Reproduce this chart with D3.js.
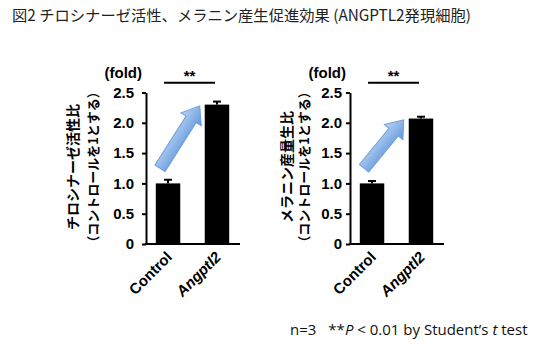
<!DOCTYPE html>
<html lang="ja">
<head>
<meta charset="utf-8"/>
<script src="https://d3js.org/d3.v7.min.js"></script>
<style>
  body { margin: 0; background: #fff; }
  svg { display: block; }
  .tick line { stroke: #000; stroke-width: 2; }
  .domain { stroke: #000; stroke-width: 2; }
</style>
</head>
<body>
<svg width="549" height="351"></svg>
<script>
// datos
const categories = ["Control", "Angptl2"];
const tyrosinase = [1.0, 2.3];
const tyrosinaseErr = [0.06, 0.05];
const melanin = [1.0, 2.07];
const melaninErr = [0.04, 0.03];
const yTicks = [0, 0.5, 1.0, 1.5, 2.0, 2.5];

const title = "図2 チロシナーゼ活性、メラニン産生促進効果 (ANGPTL2発現細胞)";
const labelsA = ["チロシナーゼ活性比", "（コントロールを1とする）"];
const labelsB = ["メラニン産量生比", "（コントロールを1とする）"];

const svg = d3.select("svg");
const jp = "'Noto Sans CJK JP', sans-serif";
const lat = "'Liberation Sans', Arial, sans-serif";

svg.append("text")
  .attr("x", 12).attr("y", 21)
  .style("font-family", jp).style("font-size", "15.3px")
  .attr("fill", "#222")
  .text(title);

// flecha azul con degradado
const defs = svg.append("defs");
const grad = defs.append("linearGradient").attr("id", "azul")
  .attr("x1", "0").attr("y1", "0").attr("x2", "0").attr("y2", "1");
grad.append("stop").attr("offset", "0%").attr("stop-color", "#b9d3f3");
grad.append("stop").attr("offset", "100%").attr("stop-color", "#5f97dc");

function chart(cfg) {
  const g = svg.append("g");
  const y = d3.scaleLinear().domain([0, 2.5]).range([244, 92.5]);
  const x = d3.scaleBand().domain(categories)
    .range([cfg.x0, cfg.x0 + 93]).paddingInner(0.5).paddingOuter(0.2);

  // barras
  g.selectAll("rect.bar").data(cfg.values).join("rect")
    .attr("x", (d, i) => x(categories[i]))
    .attr("width", x.bandwidth())
    .attr("y", d => y(d))
    .attr("height", d => y(0) - y(d))
    .attr("fill", "#000");

  // barras de error
  cfg.values.forEach((v, i) => {
    const cx = x(categories[i]) + x.bandwidth() / 2;
    const top = y(v + cfg.err[i]);
    g.append("line").attr("x1", cx).attr("x2", cx)
      .attr("y1", y(v)).attr("y2", top)
      .attr("stroke", "#000").attr("stroke-width", 2);
    g.append("line").attr("x1", cx - 4).attr("x2", cx + 4)
      .attr("y1", top).attr("y2", top)
      .attr("stroke", "#000").attr("stroke-width", 2);
  });

  // eje Y
  g.append("g")
    .attr("transform", "translate(" + cfg.x0 + ",0)")
    .call(d3.axisLeft(y).tickValues(yTicks).tickSize(4).tickSizeOuter(0)
      .tickPadding(cfg.pad)
      .tickFormat(d => d === 0 ? "0" : d3.format(".1f")(d)))
    .call(a => a.selectAll("text")
      .style("font-family", lat).style("font-size", "15px")
      .style("font-weight", "bold").attr("fill", "#000"));

  // eje X (línea base)
  g.append("line")
    .attr("x1", cfg.x0 - 1).attr("x2", cfg.x0 + 94)
    .attr("y1", y(0)).attr("y2", y(0))
    .attr("stroke", "#000").attr("stroke-width", 2);

  // etiquetas de categoría
  categories.forEach((c, i) => {
    const cx = x(c) + x.bandwidth() / 2;
    g.append("text")
      .attr("transform", "translate(" + (cx + 5) + "," + (y(0) + 14) + ") rotate(-45)")
      .attr("text-anchor", "end")
      .style("font-family", lat).style("font-size", "15px")
      .style("font-weight", "bold")
      .style("font-style", i === 1 ? "italic" : "normal")
      .text(c);
  });

  // (fold)
  g.append("text")
    .attr("x", cfg.x0 - 4).attr("y", 78)
    .attr("text-anchor", "end")
    .style("font-family", lat).style("font-size", "15px")
    .style("font-weight", "bold")
    .text("(fold)");

  // significancia
  const c0 = x(categories[0]) + x.bandwidth() / 2;
  const c1 = x(categories[1]) + x.bandwidth() / 2;
  g.append("line")
    .attr("x1", c0 - 4).attr("x2", c1 - 2)
    .attr("y1", y(2.66)).attr("y2", y(2.66))
    .attr("stroke", "#000").attr("stroke-width", 2);
  g.append("text")
    .attr("x", (c0 + c1) / 2 - 3).attr("y", 81)
    .attr("text-anchor", "middle")
    .style("font-family", lat).style("font-size", "15px")
    .style("font-weight", "bold")
    .text("**");

  // flecha
  const tx = c0 - 8, ty = y(1.25);
  const hx = x(categories[1]) - 5, hy = y(cfg.values[1] - 0.02);
  const len = Math.hypot(hx - tx, hy - ty);
  const ang = Math.atan2(hy - ty, hx - tx) * 180 / Math.PI;
  const sw = 6, hw = 12, hl = 16;
  const pts = [[0, -sw], [len - hl, -sw], [len - hl, -hw], [len, 0],
               [len - hl, hw], [len - hl, sw], [0, sw]];
  g.append("path")
    .attr("d", d3.line()(pts) + "Z")
    .attr("transform", "translate(" + tx + "," + ty + ") rotate(" + ang + ")")
    .attr("fill", "url(#azul)")
    .attr("stroke", "#6f9fd8").attr("stroke-width", 1);

  // etiqueta eje Y (vertical, dos líneas)
  cfg.labels.forEach((t, i) => {
    g.append("text")
      .attr("transform", "translate(" + cfg.lx[i] + ",167) rotate(-90)")
      .attr("text-anchor", "middle")
      .attr("dy", "0.35em")
      .style("font-family", jp)
      .style("font-size", i === 0 ? "14px" : "13px")
      .style("font-weight", "bold")
      .text(t);
  });
}

chart({ x0: 146, values: tyrosinase, err: tyrosinaseErr, pad: 8, labels: labelsA, lx: [73, 93] });
chart({ x0: 350, values: melanin, err: melaninErr, pad: 4, labels: labelsB, lx: [287, 304] });

// nota al pie
const foot = svg.append("text")
  .attr("x", 290).attr("y", 335)
  .style("font-family", "'Open Sans', sans-serif").style("font-size", "15px")
  .attr("fill", "#111");
foot.append("tspan").text("n=3");
foot.append("tspan").attr("dx", 12).text("**");
foot.append("tspan").style("font-style", "italic").text("P");
foot.append("tspan").text(" < 0.01 by Student’s ");
foot.append("tspan").style("font-style", "italic").text("t");
foot.append("tspan").text(" test");
</script>
</body>
</html>
